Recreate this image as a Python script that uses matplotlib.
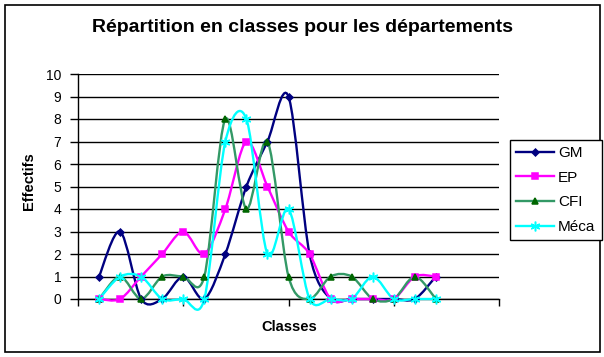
import numpy as np
import matplotlib
matplotlib.use("Agg")
import matplotlib.pyplot as plt
from matplotlib.path import Path
from matplotlib.patches import PathPatch, Rectangle
from matplotlib.lines import Line2D

plt.rcParams['font.family'] = ['Liberation Sans', 'DejaVu Sans']

# Données (classes 1 à 17)
classes = np.arange(1, 18)
gm = [1, 3, 0, 0, 1, 0, 2, 5, 7, 9, 2, 0, 0, 0, 0, 0, 1]
ep = [0, 0, 1, 2, 3, 2, 4, 7, 5, 3, 2, 0, 0, 0, 0, 1, 1]
cfi = [0, 1, 0, 1, 1, 1, 8, 4, 7, 1, 0, 1, 1, 0, 0, 1, 0]
meca = [0, 1, 1, 0, 0, 0, 7, 8, 2, 4, 0, 0, 0, 1, 0, 0, 0]

noms = ['GM', 'EP', 'CFI', 'Méca']
series = [gm, ep, cfi, meca]
couleurs = ['#000080', '#FF00FF', '#339966', '#00FFFF']
marqueurs = ['D', 's', '^', (6, 2, 0)]
couleurs_marq = ['#000080', '#FF00FF', '#006600', '#00FFFF']
tailles = [3.5, 4.5, 4.5, 7]


def courbe_lissee(x, y):
    """Chemin de Bézier passant par les points (lissage façon tableur)."""
    x = np.asarray(x, float)
    y = np.asarray(y, float)
    pts = np.column_stack([x, y])
    verts = [pts[0]]
    codes = [Path.MOVETO]
    n = len(pts)
    for i in range(n - 1):
        p0 = pts[i - 1] if i > 0 else pts[i]
        p1 = pts[i]
        p2 = pts[i + 1]
        p3 = pts[i + 2] if i + 2 < n else pts[i + 1]
        c1 = p1 + (p2 - p0) / 6.5
        c2 = p2 - (p3 - p1) / 6.5
        verts += [c1, c2, p2]
        codes += [Path.CURVE4] * 3
    return Path(verts, codes)


fig = plt.figure(figsize=(6.04, 3.57), dpi=100)
ax = fig.add_axes([78 / 604, 1 - 299 / 357, 421 / 604, 225 / 357])

ax.set_xlim(0, 20)
ax.set_ylim(0, 10)
ax.set_yticks(range(0, 11))
ax.set_xticks([0, 5, 10, 15, 20])
ax.set_xticklabels([])
ax.tick_params(axis='y', direction='out', length=6, width=1, labelsize=10, pad=6)
ax.tick_params(axis='x', direction='out', length=5, width=1)
ax.yaxis.grid(True, color='black', linewidth=1)
ax.set_axisbelow(True)
for cote in ['top', 'right']:
    ax.spines[cote].set_visible(False)
for cote in ['left', 'bottom']:
    ax.spines[cote].set_linewidth(1)

poignees = []
for nom, y, c, m, cm, t in zip(noms, series, couleurs, marqueurs, couleurs_marq, tailles):
    patch = PathPatch(courbe_lissee(classes, y), facecolor='none', edgecolor=c,
                      linewidth=1.7, clip_on=False, zorder=3)
    ax.add_patch(patch)
    ax.plot(classes, y, linestyle='none', marker=m, markersize=t,
            color=cm, markeredgecolor=cm, markeredgewidth=1.1, clip_on=False, zorder=4)
    poignees.append(Line2D([], [], color=c, linewidth=1.7, marker=m, markersize=t,
                           markerfacecolor=cm, markeredgecolor=cm, markeredgewidth=1.1))

fig.text(302 / 604, 1 - 27 / 357, 'Répartition en classes pour les départements',
         fontsize=14, fontweight='bold', ha='center', va='center')
fig.text(289 / 604, 1 - 327 / 357, 'Classes', fontsize=10.5, fontweight='bold',
         ha='center', va='center')
fig.text(29 / 604, 1 - 181 / 357, 'Effectifs', fontsize=10.5, fontweight='bold',
         ha='center', va='center', rotation=90)

leg = fig.legend(poignees, noms, loc='upper left',
                 bbox_to_anchor=(510 / 604, 1 - 140 / 357), fontsize=11,
                 frameon=True, fancybox=False, edgecolor='black', framealpha=1,
                 handlelength=2.5, handletextpad=0.25, labelspacing=0.7,
                 borderpad=0.4, borderaxespad=0)
leg.get_frame().set_linewidth(1)

fig.add_artist(Rectangle((5 / 604, 5 / 357), 595 / 604, 347 / 357,
                         transform=fig.transFigure, fill=False,
                         edgecolor='black', linewidth=1.2))

fig.savefig('out.png', dpi=100)
